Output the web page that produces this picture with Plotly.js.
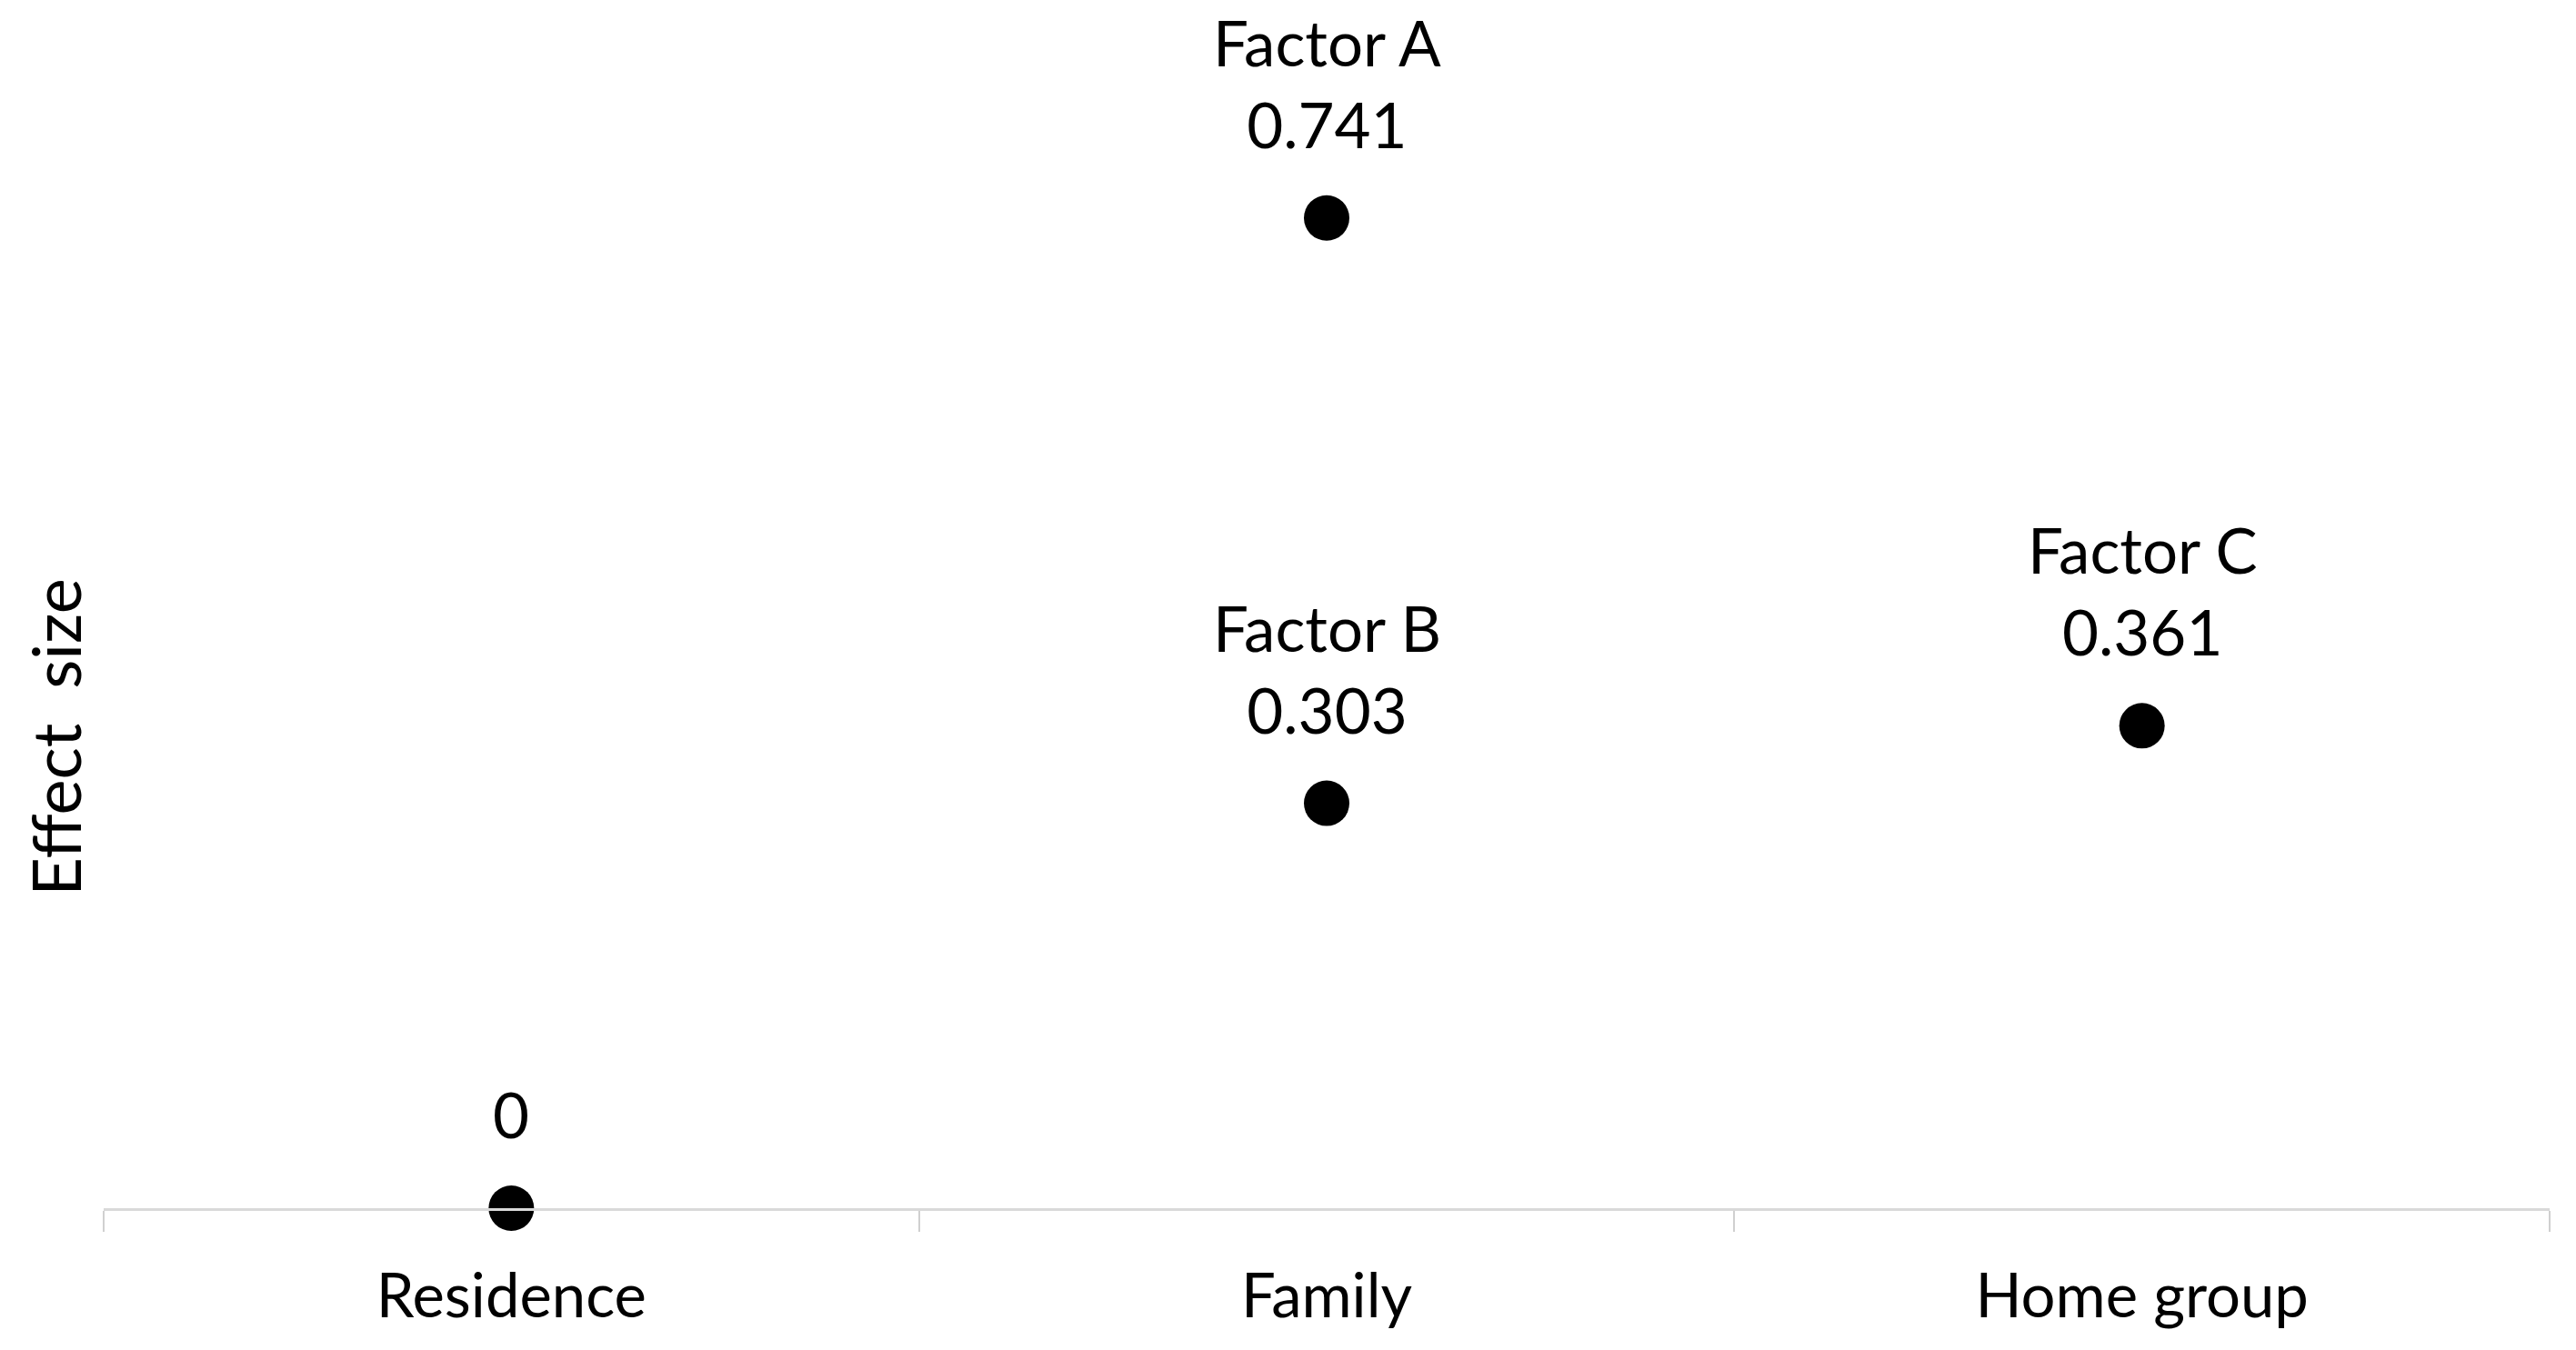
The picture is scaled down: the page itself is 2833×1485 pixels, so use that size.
<!DOCTYPE html>
<html>
<head>
<meta charset="utf-8">
<script src="https://cdn.plot.ly/plotly-3.0.1.min.js"></script>
<style>html,body{margin:0;padding:0;background:#fff;}#chart{width:2833px;height:1485px;}</style>
</head>
<body>
<div id="chart"></div>
<script>
const categories = ["Residence", "Family", "Family", "Home group"];
const effectSizes = [0, 0.741, 0.303, 0.361];
const factorNames = ["", "Factor A", "Factor B", "Factor C"];
const categoryOrder = ["Residence", "Family", "Home group"];
const yTitle = "Effect\u00a0 size";

const labels = effectSizes.map((v, i) => (factorNames[i] ? factorNames[i] + "<br>" : "") + String(v));

const FONT = "Lato, 'Open Sans', sans-serif";

const trace = {
  type: "scatter",
  mode: "markers",
  x: categories,
  y: effectSizes,
  marker: {color: "#000", size: 50},
  cliponaxis: false,
  hoverinfo: "skip"
};

const annotations = labels.map((t, i) => ({
  x: categories[i],
  y: effectSizes[i],
  xref: "x",
  yref: "y",
  text: t,
  showarrow: false,
  xanchor: "center",
  yanchor: "bottom",
  yshift: 60,
  align: "center",
  font: {family: FONT, size: 69, color: "#000"}
}));

// y-axis title, placed where the reference draws it (centred on the full figure height)
annotations.push({
  xref: "paper",
  yref: "paper",
  x: -0.0197,
  y: 0.3917,
  xanchor: "center",
  yanchor: "middle",
  text: yTitle,
  textangle: -90,
  showarrow: false,
  font: {family: FONT, size: 74, color: "#000"}
});

const layout = {
  width: 2833,
  height: 1485,
  margin: {l: 114, r: 29, t: 6, b: 156},
  paper_bgcolor: "#fff",
  plot_bgcolor: "#fff",
  showlegend: false,
  font: {family: FONT, color: "#000"},
  annotations: annotations,
  xaxis: {
    type: "category",
    categoryorder: "array",
    categoryarray: categoryOrder,
    range: [-0.5, 2.5],
    tickson: "boundaries",
    ticks: "outside",
    ticklen: 23,
    tickwidth: 2,
    tickcolor: "#d0d0d0",
    showline: true,
    linecolor: "#d9d9d9",
    linewidth: 3,
    showgrid: false,
    zeroline: false,
    tickfont: {family: FONT, size: 67, color: "#000"},
    ticklabelstandoff: 37,
    fixedrange: true
  },
  yaxis: {
    range: [0, 0.9],
    showline: false,
    showgrid: false,
    zeroline: false,
    showticklabels: false,
    ticks: "",
    automargin: false,
    fixedrange: true
  }
};

Plotly.newPlot("chart", [trace], layout, {displayModeBar: false, staticPlot: true});
</script>
</body>
</html>
